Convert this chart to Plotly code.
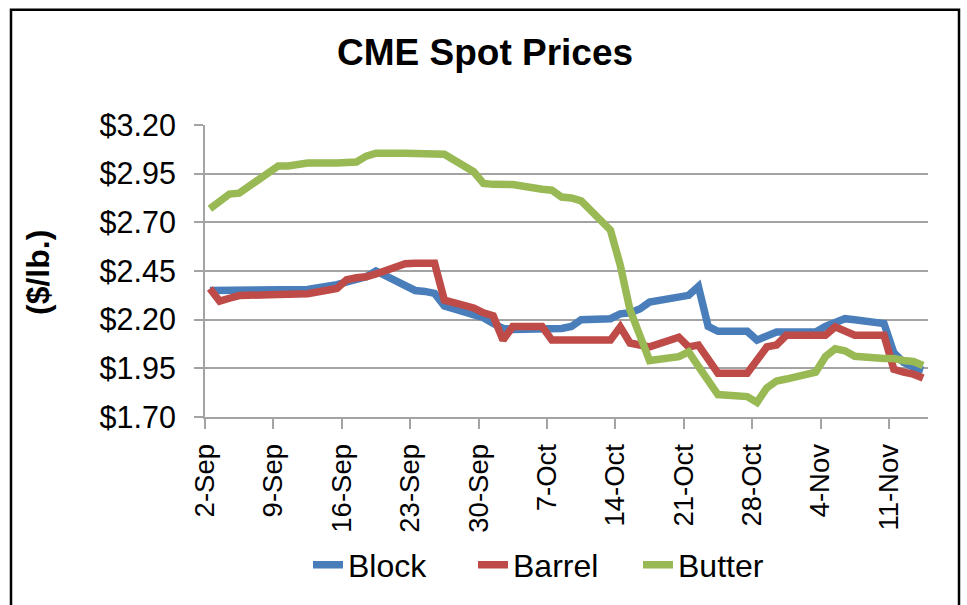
import pandas as pd
import plotly.graph_objects as go

# ---- data (CME daily spot prices, $/lb) ----
dates = [
    "2014-09-02", "2014-09-03", "2014-09-04", "2014-09-05",
    "2014-09-08", "2014-09-09", "2014-09-10", "2014-09-11", "2014-09-12",
    "2014-09-15", "2014-09-16", "2014-09-17", "2014-09-18", "2014-09-19",
    "2014-09-22", "2014-09-23", "2014-09-24", "2014-09-25", "2014-09-26",
    "2014-09-29", "2014-09-30", "2014-10-01", "2014-10-02", "2014-10-03",
    "2014-10-06", "2014-10-07", "2014-10-08", "2014-10-09", "2014-10-10",
    "2014-10-13", "2014-10-14", "2014-10-15", "2014-10-16", "2014-10-17",
    "2014-10-20", "2014-10-21", "2014-10-22", "2014-10-23", "2014-10-24",
    "2014-10-27", "2014-10-28", "2014-10-29", "2014-10-30", "2014-10-31",
    "2014-11-03", "2014-11-04", "2014-11-05", "2014-11-06", "2014-11-07",
    "2014-11-10", "2014-11-11", "2014-11-12", "2014-11-13", "2014-11-14",
]

block = [
    2.35, 2.35, 2.35, 2.35,
    2.35, 2.35, 2.35, 2.35, 2.355,
    2.38, 2.395, 2.405, 2.42, 2.45,
    2.375, 2.35, 2.345, 2.335, 2.27,
    2.23, 2.21, 2.18, 2.155, 2.15,
    2.15, 2.15, 2.155, 2.165, 2.20,
    2.205, 2.23, 2.235, 2.255, 2.29,
    2.32, 2.325, 2.37, 2.165, 2.14,
    2.14, 2.095, 2.115, 2.137, 2.137,
    2.137, 2.165, 2.19, 2.205, 2.20,
    2.18, 2.03, 1.98, 1.955, 1.94,
]

barrel = [
    2.36, 2.295, 2.31, 2.324,
    2.328, 2.33, 2.33, 2.33, 2.333,
    2.36, 2.405, 2.415, 2.42, 2.435,
    2.487, 2.49, 2.49, 2.49, 2.30,
    2.26, 2.235, 2.22, 2.095, 2.165,
    2.165, 2.095, 2.095, 2.095, 2.095,
    2.095, 2.163, 2.08, 2.07, 2.06,
    2.11, 2.06, 2.069, 2.00, 1.925,
    1.925, 2.00, 2.06, 2.07, 2.12,
    2.12, 2.12, 2.163, 2.14, 2.12,
    2.12, 1.945, 1.93, 1.92, 1.90,
]

butter = [
    2.77, 2.81, 2.845, 2.85,
    2.955, 2.99, 2.99, 2.995, 3.005,
    3.005, 3.005, 3.01, 3.04, 3.055,
    3.055, 3.055, 3.055, 3.055, 3.05,
    2.96, 2.90, 2.895, 2.895, 2.894,
    2.87, 2.865, 2.83, 2.825, 2.81,
    2.66, 2.48, 2.25, 2.12, 1.99,
    2.01, 2.035, 1.96, 1.88, 1.815,
    1.805, 1.775, 1.85, 1.885, 1.895,
    1.93, 2.01, 2.05, 2.04, 2.012,
    2.00, 2.00, 1.99, 1.985, 1.965,
]

series_names = ["Block", "Barrel", "Butter"]
series_colors = ["#4A7EBB", "#BE4B48", "#98B954"]

y_ticks = [1.70, 1.95, 2.20, 2.45, 2.70, 2.95, 3.20]

# Excel date axis, "between tick marks": each day's point sits mid-day
x = pd.to_datetime(dates) + pd.Timedelta(hours=12)

FONT = "Liberation Sans, Arial, sans-serif"
GRID = "#A3A3A3"

fig = go.Figure()
for name, vals, col in zip(series_names, [block, barrel, butter], series_colors):
    fig.add_trace(go.Scatter(
        x=x, y=vals, name=name, mode="lines",
        line=dict(color=col, width=7.5),
    ))

# plot area: x 205..928, y 125..419 in a 967x605 page
L, R, T, B = 205, 928, 125, 419
W, H = 967, 605


def px_x(p):
    return (p - L) / (R - L)


def px_y(p):
    return (B - p) / (B - T)


fig.update_layout(
    width=W, height=H,
    margin=dict(l=L, r=W - R, t=T, b=H - B, pad=0),
    paper_bgcolor="white", plot_bgcolor="white",
    font=dict(family=FONT, color="black"),
    showlegend=True,
    legend=dict(
        orientation="h", x=px_x(308), xanchor="left",
        y=px_y(568), yanchor="middle",
        font=dict(size=32, family=FONT, color="black"),
        bgcolor="rgba(0,0,0,0)",
        entrywidth=120, entrywidthmode="pixels",
    ),
    xaxis=dict(
        type="date",
        range=["2014-09-02", "2014-11-15"],
        tick0="2014-09-02", dtick=7 * 86400000,
        tickformat="%-d-%b", tickangle=-90,
        tickfont=dict(size=27.5, family=FONT, color="black"),
        showgrid=False, zeroline=False,
        showline=True, linecolor=GRID, linewidth=2,
        ticks="outside", ticklen=10, tickcolor=GRID, tickwidth=2,
        ticklabelstandoff=4,
    ),
    yaxis=dict(
        range=[1.70, 3.20],
        tickmode="array", tickvals=y_ticks,
        ticktext=["$%.2f" % v for v in y_ticks],
        tickfont=dict(size=30.5, family=FONT, color="black"),
        showgrid=True, gridcolor=GRID, gridwidth=2,
        zeroline=False,
        showline=True, linecolor=GRID, linewidth=2,
        ticks="outside", ticklen=9, tickcolor=GRID, tickwidth=2,
        ticklabelstandoff=12,
    ),
    annotations=[
        dict(text="<b>CME Spot Prices</b>", xref="paper", yref="paper",
             x=px_x(485), y=px_y(52), xanchor="center", yanchor="middle",
             showarrow=False, font=dict(size=37, family=FONT, color="black")),
        dict(text="<b>($/lb.)</b>", xref="paper", yref="paper",
             x=px_x(38), y=px_y(274), xanchor="center", yanchor="middle",
             textangle=-90, showarrow=False,
             font=dict(size=32, family=FONT, color="black")),
    ],
    shapes=[
        dict(type="rect", xref="paper", yref="paper",
             x0=px_x(11), x1=px_x(959), y0=px_y(640), y1=px_y(9),
             line=dict(color="black", width=2.5), layer="above"),
    ],
)

fig.write_html(
    "out.html",
    config={"displayModeBar": False},
    post_script="document.body.style.margin='0';document.body.style.overflow='hidden';",
)
